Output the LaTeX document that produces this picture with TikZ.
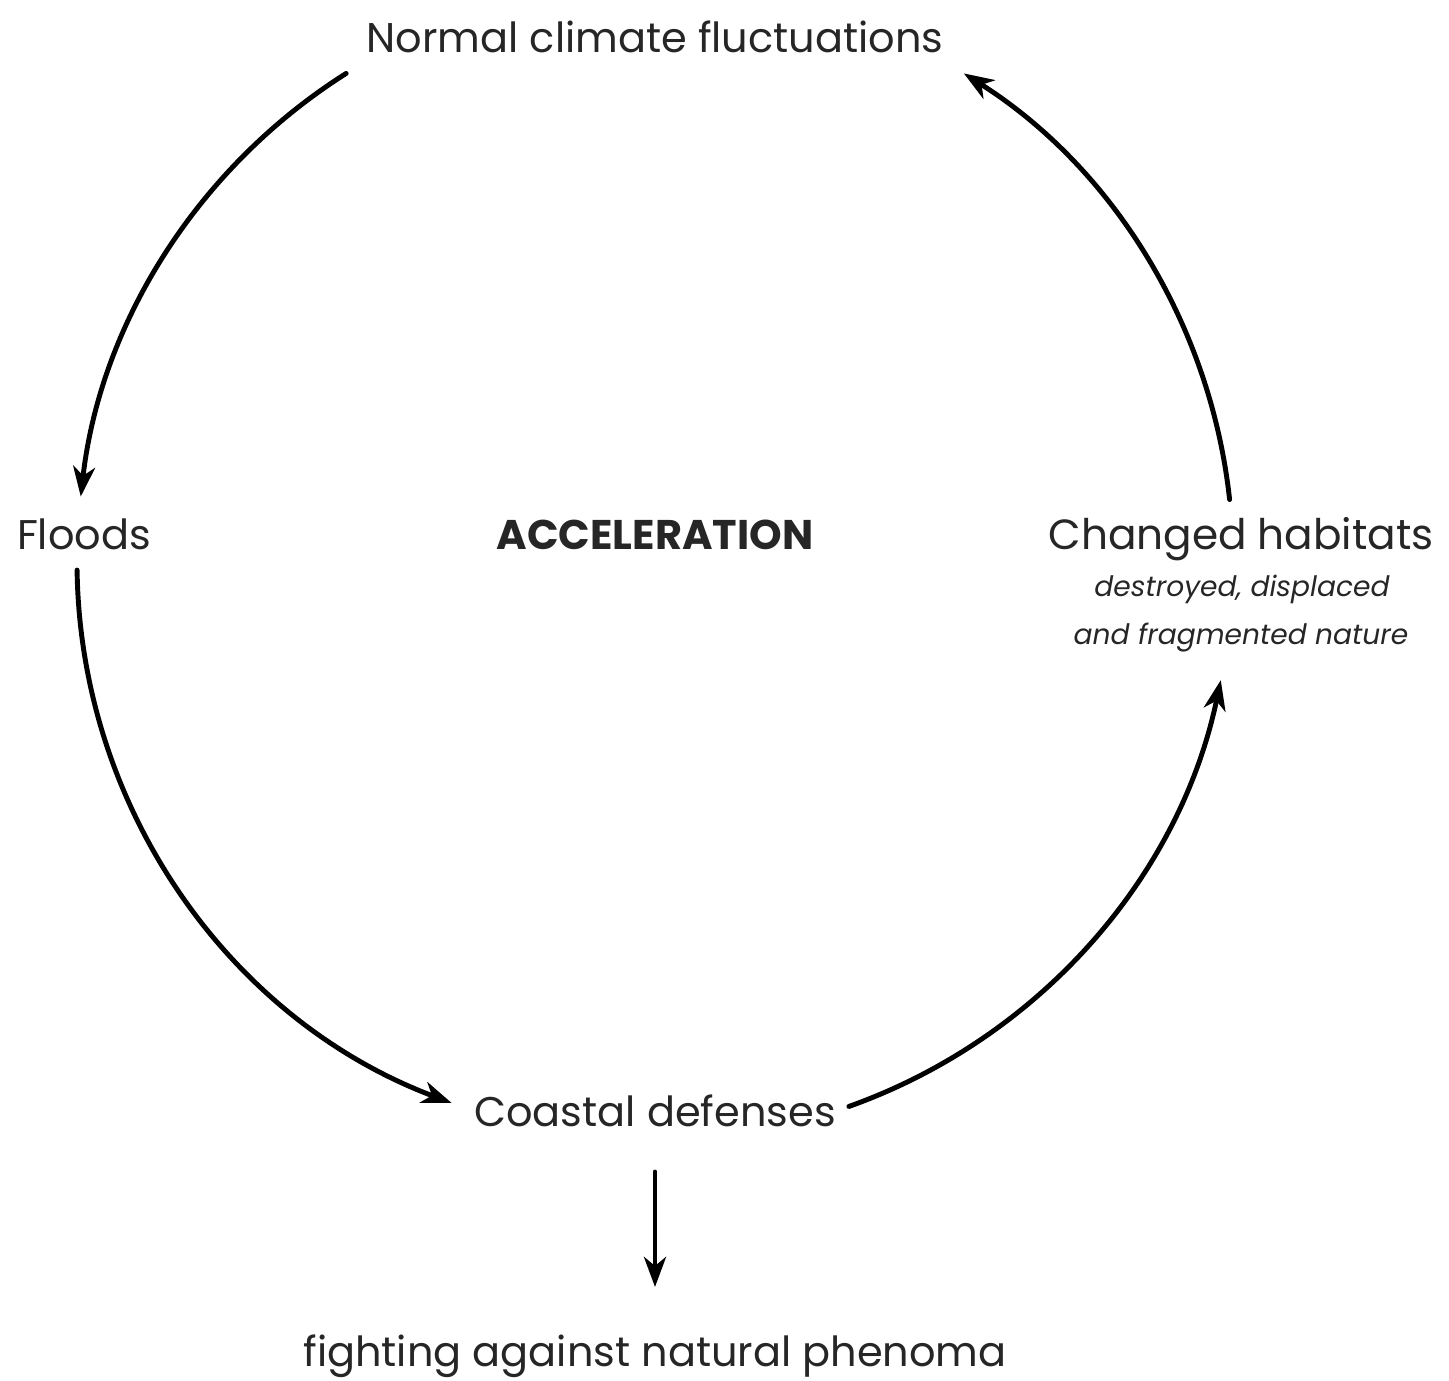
\documentclass[tikz,border=0pt]{standalone}
\usepackage{fontspec}
\setmainfont{Poppins}
\usetikzlibrary{arrows.meta,calc}
\begin{document}
\begin{tikzpicture}[line join=round,line cap=round,>={Stealth[length=3mm,width=2.2mm,inset=0.9mm]},
	line width=1.4pt,
	lbl/.style={anchor=base,inner sep=0pt,font=\fontsize{11.8}{14}\selectfont,text=black!85},
	sub/.style={anchor=base,inner sep=0pt,font=\fontsize{8}{10}\itshape,text=black!85}]
	\useasboundingbox (0,0) rectangle (14.49,13.81);
	\coordinate (c) at (6.55,8.19);
	\def\r{5.78}
	\node[lbl] (normal) at (6.55,13.28) {Normal climate fluctuations};
	\node[lbl] (floods) at (0.84,8.31) {Floods};
	\node[lbl,font=\fontsize{11.8}{14}\bfseries] (accel) at (6.55,8.31) {ACCELERATION};
	\node[lbl,font=\fontsize{12}{14}\selectfont] (habitats) at (12.41,8.31) {Changed habitats};
	\node[sub] (destroyed) at (12.42,7.84) {destroyed, displaced};
	\node[sub] (fragmented) at (12.41,7.36) {and fragmented nature};
	\node[lbl] (coastal) at (6.55,2.54) {Coastal defenses};
	\node[lbl] (fighting) at (6.55,0.14) {fighting against natural phenoma};
	\foreach \a/\b in {122.3/173.5,180.8/249.4,289.6/348.2,6.2/57.7}
	\draw[->] ($(c)+(\a:\r)$) arc[start angle=\a,end angle=\b,radius=\r];
	\coordinate (down) at (6.55,2.09);
	\coordinate (up) at (6.55,0.94);
	\draw[->] (down)--(up);
\end{tikzpicture}
\end{document}
